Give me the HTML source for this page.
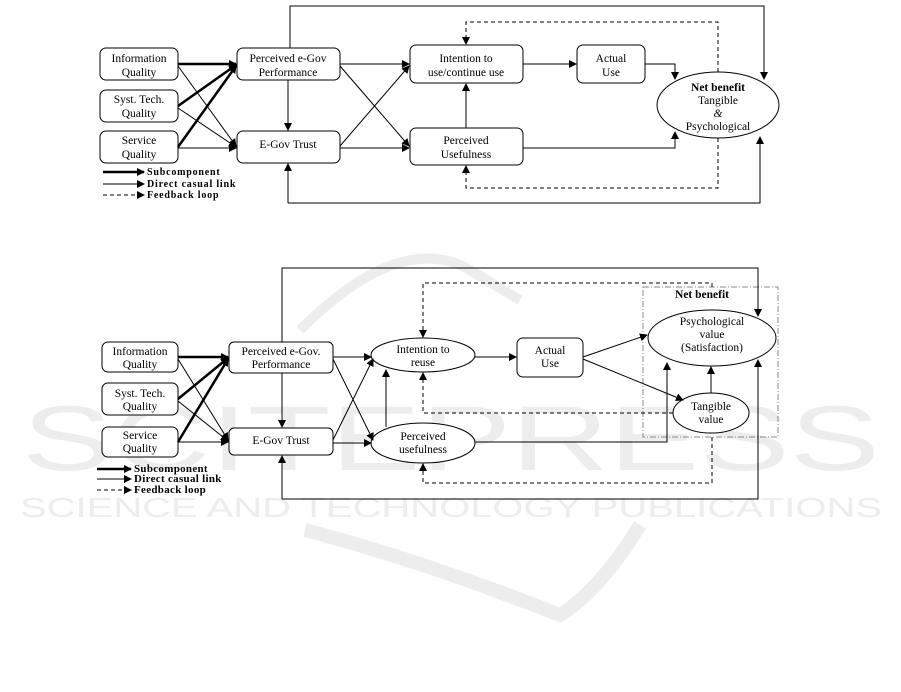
<!DOCTYPE html>
<html><head><meta charset="utf-8"><style>body{margin:0;background:#fff}svg{display:block}</style></head><body>
<svg width="901" height="692" viewBox="0 0 901 692" xmlns="http://www.w3.org/2000/svg" font-family="Liberation Serif, serif" font-size="11.5">
<defs>
<marker id="a" markerWidth="8" markerHeight="8" refX="7" refY="4" orient="auto" markerUnits="userSpaceOnUse"><path d="M0,0 L8,4 L0,8 z" fill="#000"/></marker>
</defs>
<!-- watermark -->
<g fill="#ededed" font-family="Liberation Sans, sans-serif">
<text x="22" y="470" font-size="92" textLength="858" lengthAdjust="spacingAndGlyphs">SCITEPRESS</text>
<text x="20" y="517" font-size="28" textLength="862" lengthAdjust="spacingAndGlyphs">SCIENCE AND TECHNOLOGY PUBLICATIONS</text>
</g>
<g fill="none" stroke="#ededed">
<path d="M300,330 Q400,230 470,270 L520,300" stroke-width="10"/>
<path d="M305,530 Q420,560 560,615 Q600,590 640,525" stroke-width="14"/>
</g>

<g stroke="#000" fill="none" stroke-width="1">
<!-- TOP DIAGRAM -->
<rect x="100" y="48" width="78" height="32" rx="6" fill="#fff"/>
<rect x="100" y="90" width="78" height="32" rx="6" fill="#fff"/>
<rect x="100" y="131" width="78" height="32" rx="6" fill="#fff"/>
<rect x="237" y="48" width="103" height="32" rx="6" fill="#fff"/>
<rect x="237" y="131" width="103" height="32" rx="6" fill="#fff"/>
<rect x="410" y="45" width="113" height="38" rx="6" fill="#fff"/>
<rect x="410" y="128" width="113" height="37" rx="6" fill="#fff"/>
<rect x="577" y="45" width="68" height="38" rx="6" fill="#fff"/>
<ellipse cx="718" cy="105" rx="61" ry="33" fill="#fff"/>
<g stroke-width="2.5">
<line x1="178" y1="64" x2="236" y2="64" marker-end="url(#a)"/>
<line x1="178" y1="106" x2="236" y2="65" marker-end="url(#a)"/>
<line x1="178" y1="147" x2="236" y2="66" marker-end="url(#a)"/>
</g>
<line x1="178" y1="66" x2="236" y2="146" marker-end="url(#a)"/>
<line x1="178" y1="108" x2="236" y2="147" marker-end="url(#a)"/>
<line x1="178" y1="148" x2="236" y2="148" marker-end="url(#a)"/>
<line x1="288" y1="80" x2="288" y2="130" marker-end="url(#a)"/>
<line x1="340" y1="64" x2="409" y2="64" marker-end="url(#a)"/>
<line x1="340" y1="66" x2="409" y2="146" marker-end="url(#a)"/>
<line x1="340" y1="146" x2="409" y2="66" marker-end="url(#a)"/>
<line x1="340" y1="148" x2="409" y2="148" marker-end="url(#a)"/>
<line x1="466" y1="128" x2="466" y2="84" marker-end="url(#a)"/>
<line x1="523" y1="64" x2="576" y2="64" marker-end="url(#a)"/>
<polyline points="645,64 675,64 675,79" marker-end="url(#a)"/>
<polyline points="523,148 675,148 675,132" marker-end="url(#a)"/>
<polyline points="290,48 290,6 764,6 764,79" marker-end="url(#a)"/>
<polyline points="288,203 760,203 760,137" marker-end="url(#a)"/>
<line x1="288" y1="203" x2="288" y2="164" marker-end="url(#a)"/>
<g stroke-dasharray="4,3">
<polyline points="718,72 718,22 466,22 466,44" marker-end="url(#a)"/>
<polyline points="718,138 718,188 466,188 466,166" marker-end="url(#a)"/>
<line x1="103" y1="195" x2="144" y2="195" marker-end="url(#a)"/>
<line x1="97" y1="490" x2="131" y2="490" marker-end="url(#a)"/>
</g>
<line x1="103" y1="172" x2="144" y2="172" stroke-width="2.5" marker-end="url(#a)"/>
<line x1="103" y1="184" x2="144" y2="184" marker-end="url(#a)"/>

<!-- BOTTOM DIAGRAM -->
<rect x="643" y="287" width="135" height="150" stroke="#888" stroke-dasharray="6,2,1,2"/>
<rect x="102" y="342" width="76" height="30" rx="6" fill="#fff"/>
<rect x="102" y="383" width="76" height="32" rx="6" fill="#fff"/>
<rect x="102" y="427" width="76" height="30" rx="6" fill="#fff"/>
<rect x="229" y="342" width="104" height="31" rx="5" fill="#fff"/>
<rect x="229" y="428" width="104" height="27" rx="5" fill="#fff"/>
<ellipse cx="423" cy="355" rx="52" ry="17" fill="#fff"/>
<ellipse cx="423" cy="443" rx="52" ry="20" fill="#fff"/>
<rect x="517" y="338" width="66" height="39" rx="6" fill="#fff"/>
<ellipse cx="712" cy="338" rx="64" ry="28" fill="#fff"/>
<ellipse cx="711" cy="413" rx="38" ry="20" fill="#fff"/>
<g stroke-width="2.5">
<line x1="178" y1="357" x2="228" y2="357" marker-end="url(#a)"/>
<line x1="178" y1="399" x2="228" y2="358" marker-end="url(#a)"/>
<line x1="178" y1="442" x2="228" y2="359" marker-end="url(#a)"/>
</g>
<line x1="178" y1="359" x2="228" y2="440" marker-end="url(#a)"/>
<line x1="178" y1="401" x2="228" y2="441" marker-end="url(#a)"/>
<line x1="178" y1="442" x2="228" y2="442" marker-end="url(#a)"/>
<line x1="282" y1="373" x2="282" y2="427" marker-end="url(#a)"/>
<line x1="333" y1="357" x2="371" y2="357" marker-end="url(#a)"/>
<line x1="333" y1="359" x2="373" y2="440" marker-end="url(#a)"/>
<line x1="333" y1="440" x2="373" y2="359" marker-end="url(#a)"/>
<line x1="333" y1="443" x2="371" y2="443" marker-end="url(#a)"/>
<line x1="386" y1="427" x2="386" y2="370" marker-end="url(#a)"/>
<line x1="475" y1="357" x2="516" y2="357" marker-end="url(#a)"/>
<line x1="583" y1="357" x2="647" y2="335" marker-end="url(#a)"/>
<line x1="583" y1="359" x2="683" y2="400" marker-end="url(#a)"/>
<line x1="711" y1="393" x2="711" y2="367" marker-end="url(#a)"/>
<polyline points="475,442 667,442 667,363" marker-end="url(#a)"/>
<polyline points="282,342 282,268 758,268 758,316" marker-end="url(#a)"/>
<polyline points="282,499 758,499 758,360" marker-end="url(#a)"/>
<line x1="282" y1="499" x2="282" y2="456" marker-end="url(#a)"/>
<g stroke-dasharray="4,3">
<polyline points="712,287 712,283 423,283 423,337" marker-end="url(#a)"/>
<polyline points="673,413 423,413 423,373" marker-end="url(#a)"/>
<polyline points="712,437 712,483 423,483 423,464" marker-end="url(#a)"/>
</g>
<line x1="97" y1="469" x2="131" y2="469" stroke-width="2.5" marker-end="url(#a)"/>
<line x1="97" y1="479" x2="131" y2="479" marker-end="url(#a)"/>
</g>

<g fill="#000" text-anchor="middle">
<text x="139" y="62">Information</text><text x="139" y="76">Quality</text>
<text x="139" y="103">Syst. Tech.</text><text x="139" y="117">Quality</text>
<text x="139" y="144">Service</text><text x="139" y="158">Quality</text>
<text x="288" y="62">Perceived e-Gov</text><text x="288" y="76">Performance</text>
<text x="288" y="148">E-Gov Trust</text>
<text x="466" y="62">Intention to</text><text x="466" y="76">use/continue use</text>
<text x="466" y="144">Perceived</text><text x="466" y="158">Usefulness</text>
<text x="611" y="62">Actual</text><text x="611" y="76">Use</text>
<text x="718" y="91" font-weight="bold">Net benefit</text><text x="718" y="104">Tangible</text><text x="718" y="117" font-style="italic">&amp;</text><text x="718" y="130">Psychological</text>

<text x="140" y="355">Information</text><text x="140" y="368">Quality</text>
<text x="140" y="397">Syst. Tech.</text><text x="140" y="410">Quality</text>
<text x="140" y="439">Service</text><text x="140" y="452">Quality</text>
<text x="281" y="355">Perceived e-Gov.</text><text x="281" y="368">Performance</text>
<text x="281" y="444">E-Gov Trust</text>
<text x="423" y="353">Intention to</text><text x="423" y="366">reuse</text>
<text x="423" y="440">Perceived</text><text x="423" y="453">usefulness</text>
<text x="550" y="354">Actual</text><text x="550" y="367">Use</text>
<text x="712" y="325">Psychological</text><text x="712" y="338">value</text><text x="712" y="351">(Satisfaction)</text>
<text x="711" y="410">Tangible</text><text x="711" y="423">value</text>
<text x="702" y="298" font-weight="bold">Net benefit</text>
</g>
<g fill="#000" font-weight="bold" font-size="10" letter-spacing="0.8">
<text x="147" y="175">Subcomponent</text>
<text x="147" y="187">Direct casual link</text>
<text x="147" y="198">Feedback loop</text>
<text x="134" y="472" font-size="11" letter-spacing="0.3">Subcomponent</text>
<text x="134" y="482" font-size="11" letter-spacing="0.3">Direct casual link</text>
<text x="134" y="493" font-size="11" letter-spacing="0.3">Feedback loop</text>
</g>
</svg>
</body></html>
